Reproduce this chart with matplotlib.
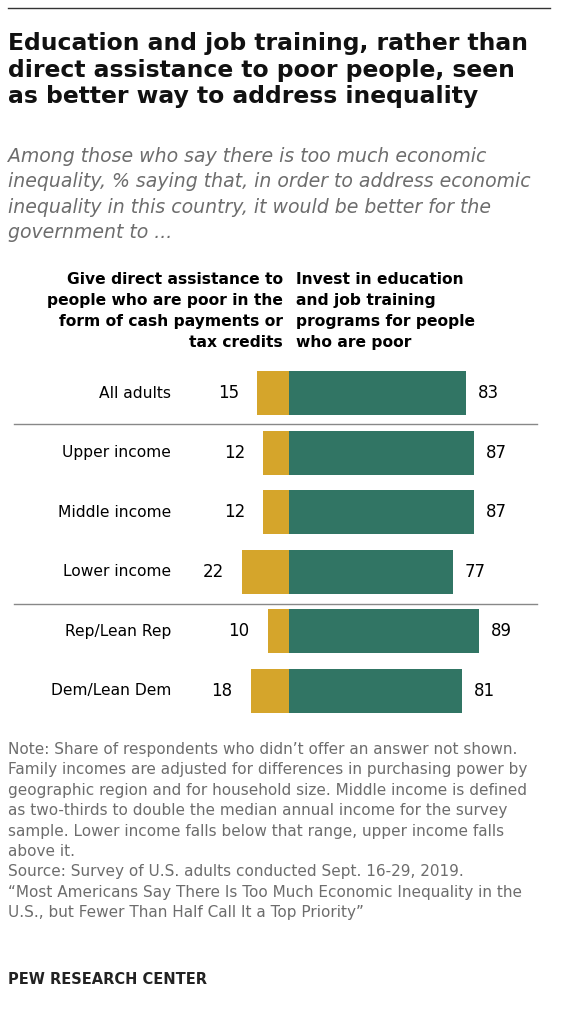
import matplotlib
matplotlib.use("Agg")
import matplotlib.pyplot as plt

categories = ["All adults", "Upper income", "Middle income", "Lower income",
              "Rep/Lean Rep", "Dem/Lean Dem"]
direct_assist = [15, 12, 12, 22, 10, 18]
invest_edu = [83, 87, 87, 77, 89, 81]

GOLD = "#D5A52B"
GREEN = "#317564"
GREY = "#6d6d6d"

fig = plt.figure(figsize=(5.7, 10.24), dpi=100)
ax = fig.add_axes([0, 0, 1, 1])
ax.set_xlim(0, 570)
ax.set_ylim(1024, 0)
ax.axis("off")

# layout in pixels
center = 289
scale = 2.13
row0, step, bar_h = 393, 59.6, 44

ax.plot([8, 550], [8, 8], color="#333333", lw=1)

title = ("Education and job training, rather than\n"
         "direct assistance to poor people, seen\n"
         "as better way to address inequality")
ax.text(8, 32, title, fontsize=16.9, fontweight="bold", va="top",
        linespacing=1.2, color="#111111")
sub = ("Among those who say there is too much economic\n"
       "inequality, % saying that, in order to address economic\n"
       "inequality in this country, it would be better for the\n"
       "government to ...")
ax.text(8, 147, sub, fontsize=13.6, style="italic", va="top",
        linespacing=1.42, color=GREY)

ax.text(283, 272, "Give direct assistance to\npeople who are poor in the\n"
        "form of cash payments or\ntax credits", fontsize=11.2,
        fontweight="bold", ha="right", va="top", linespacing=1.5)
ax.text(296, 272, "Invest in education\nand job training\n"
        "programs for people\nwho are poor", fontsize=11.2,
        fontweight="bold", ha="left", va="top", linespacing=1.5)

for i, (cat, a, b) in enumerate(zip(categories, direct_assist, invest_edu)):
    y = row0 + step * i
    ax.barh(y, -a * scale, left=center, height=bar_h, color=GOLD)
    ax.barh(y, b * scale, left=center, height=bar_h, color=GREEN)
    ax.text(171, y, cat, fontsize=11.2, ha="right", va="center")
    ax.text(center - a * scale - 18, y, str(a), fontsize=12,
            ha="right", va="center")
    ax.text(center + b * scale + 12, y, str(b), fontsize=12,
            ha="left", va="center")

for ysep in (423.5, 603.5):
    ax.plot([14, 537], [ysep, ysep], color="#888888", lw=1)

note = ("Note: Share of respondents who didn\u2019t offer an answer not shown.\n"
        "Family incomes are adjusted for differences in purchasing power by\n"
        "geographic region and for household size. Middle income is defined\n"
        "as two-thirds to double the median annual income for the survey\n"
        "sample. Lower income falls below that range, upper income falls\n"
        "above it.\n"
        "Source: Survey of U.S. adults conducted Sept. 16-29, 2019.\n"
        "\u201cMost Americans Say There Is Too Much Economic Inequality in the\n"
        "U.S., but Fewer Than Half Call It a Top Priority\u201d")
ax.text(8, 742, note, fontsize=11, va="top", linespacing=1.45, color=GREY)
ax.text(8, 980, "PEW RESEARCH CENTER", fontsize=10.5, fontweight="bold",
        va="center", color="#222222")

fig.savefig("out.png", dpi=100)
